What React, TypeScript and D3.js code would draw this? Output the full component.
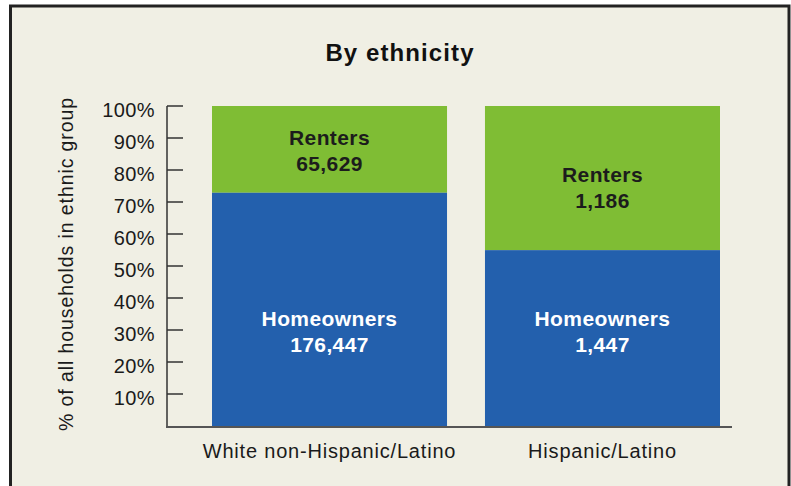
import * as d3 from 'd3';

const groups = ['White non-Hispanic/Latino', 'Hispanic/Latino'];
const homeowners = [176447, 1447];
const renters = [65629, 1186];
// label anchor (value in % where first line's baseline sits)
const renterLabelAt = [87.8, 76.2];
const ownerLabelAt = [31.2, 31.2];
const yTicks = [10, 20, 30, 40, 50, 60, 70, 80, 90, 100];

const W = 791;
const H = 486;
const FONT = '"Liberation Sans", Arial, Helvetica, sans-serif';

export default function App() {
  const x = d3.scaleBand<string>().domain(groups).range([212, 720]).paddingInner(0.139).paddingOuter(0);
  const y = d3.scaleLinear().domain([0, 100]).range([426, 106]);
  const fmt = d3.format(',');

  const rows = groups.map((g, i) => {
    const total = homeowners[i] + renters[i];
    const ownPct = (homeowners[i] / total) * 100;
    return { g, i, ownPct };
  });

  return (
    <svg
      width={W}
      height={H}
      style={{ position: 'absolute', left: 0, top: 0, fontFamily: FONT }}
    >
      <rect x={0} y={0} width={W} height={H} fill="#ffffff" />
      <rect x={10.5} y={6} width={778.5} height={500} fill="#f0efe4" stroke="#222222" strokeWidth={3} />

      <text x={400} y={61} textAnchor="middle" fontSize={24} fontWeight="bold" fill="#111" letterSpacing={1.1}>
        By ethnicity
      </text>

      <text
        transform={`translate(73,${264}) rotate(-90)`}
        textAnchor="middle"
        fontSize={19.5}
        letterSpacing={0.9}
        fill="#1a1a1a"
      >
        % of all households in ethnic group
      </text>

      {rows.map((r) => {
        const bx = x(r.g)!;
        const bw = x.bandwidth();
        const cx = bx + bw / 2;
        return (
          <g key={r.g}>
            <rect x={bx} y={y(100)} width={bw} height={y(r.ownPct) - y(100)} fill="#7fbd34" />
            <rect x={bx} y={y(r.ownPct)} width={bw} height={y(0) - y(r.ownPct)} fill="#2360ad" />
            <text textAnchor="middle" fontSize={21} fontWeight="bold" fill="#1c1c1c" letterSpacing={0.4}>
              <tspan x={cx} y={y(renterLabelAt[r.i])}>Renters</tspan>
              <tspan x={cx} y={y(renterLabelAt[r.i]) + 25.5}>{fmt(renters[r.i])}</tspan>
            </text>
            <text textAnchor="middle" fontSize={21} fontWeight="bold" fill="#ffffff" letterSpacing={0.4}>
              <tspan x={cx} y={y(ownerLabelAt[r.i])}>Homeowners</tspan>
              <tspan x={cx} y={y(ownerLabelAt[r.i]) + 25.5}>{fmt(homeowners[r.i])}</tspan>
            </text>
            <text x={cx} y={458} textAnchor="middle" fontSize={20} fill="#1a1a1a" letterSpacing={0.8}>
              {r.g}
            </text>
          </g>
        );
      })}

      {/* y axis */}
      <line x1={167} x2={167} y1={y(100)} y2={y(0) + 1} stroke="#333" strokeWidth={1.5} />
      {yTicks.map((t) => (
        <g key={t}>
          <line x1={167} x2={183} y1={y(t)} y2={y(t)} stroke="#333" strokeWidth={1.5} />
          <text x={155} y={y(t) + 11} textAnchor="end" fontSize={20} fill="#1a1a1a" letterSpacing={0.4}>
            {t}%
          </text>
        </g>
      ))}
      {/* x axis */}
      <line x1={166} x2={732} y1={y(0) + 1} y2={y(0) + 1} stroke="#555" strokeWidth={2} />
    </svg>
  );
}
